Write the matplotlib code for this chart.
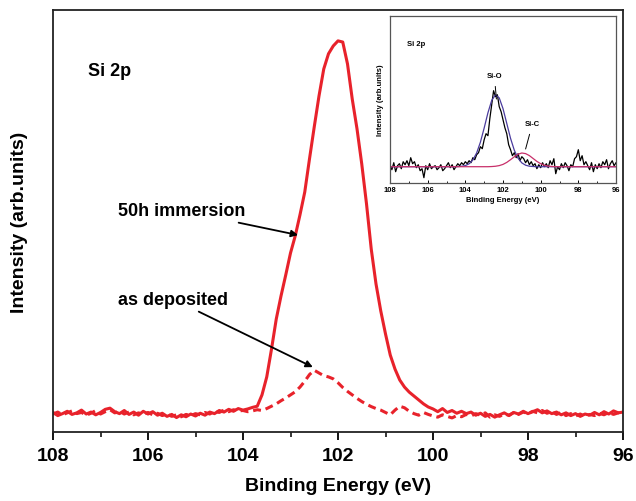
import numpy as np
import matplotlib
matplotlib.use("Agg")
import matplotlib.pyplot as plt
from matplotlib.ticker import MultipleLocator

plt.rcParams['font.family'] = ['Liberation Sans', 'DejaVu Sans']
plt.rcParams['font.weight'] = 'bold'

# Binding energy grid (eV), 108 -> 96 in 0.1 eV steps
energy = np.linspace(108.0, 96.0, 121)

# Si 2p intensity after 50 h immersion (counts, arb.)
immersion_50h = [
    50, 42, 47, 53, 45, 49, 56, 46, 51, 44, 50, 58, 61, 52, 47, 55, 45, 51, 43, 53,
    46, 52, 43, 48, 40, 45, 37, 44, 39, 46, 41, 48, 43, 51, 47, 55, 51, 58, 53, 60,
    56, 59, 63,
    66, 95, 141, 212, 289, 348, 402, 458, 502, 556, 614, 699, 781, 860, 929, 968, 988,
    1001, 998, 942, 852, 776, 686, 584, 468, 379, 310, 251, 197, 161, 133, 115, 102,
    92, 82, 72, 64, 59,
    52, 60, 50, 55, 48, 53, 47, 51, 43, 48, 40, 45, 38, 44, 49, 42, 50, 46, 53, 47,
    52, 57, 49, 54, 47, 51, 44, 49, 42, 47, 40, 46, 43, 50, 44, 52, 46, 54, 49, 51,
]

# Si 2p intensity of the as-deposited film
as_deposited = [
    46, 51, 44, 49, 54, 47, 50, 43, 48, 55, 46, 52, 57, 49, 53, 46, 51, 44, 49, 45,
    50, 44, 48, 42, 46, 40, 44, 39, 45, 42, 47, 44, 50, 46, 53, 50, 56, 52, 57, 54,
    55,
    52, 54, 57, 55, 60, 66, 72, 80, 87, 95, 103, 115, 130, 147, 158, 151, 144, 141,
    136, 126, 114, 104, 95, 86, 78, 71, 65, 60, 56, 50, 44, 56, 66, 62, 53, 47, 43,
    50, 45, 41,
    38, 44, 40, 36, 42, 39, 45, 41, 47, 43, 49, 38, 44, 40, 46, 43, 50, 45, 51, 47,
    53, 49, 55, 48, 52, 45, 50, 42, 47, 41, 46, 40, 45, 42, 48, 44, 50, 45, 49, 46,
]

# Inset: raw Si 2p spectrum (height above background, arb.)
inset_raw = [
    2, -3, 4, -5, 1, 3, -2, 5, 2, 6, 1, 9, 3, 5, -1, 2, -4, -2, -11, 1,
    -3, 3, -2, 0, 1, -3, -1, 2, -4, -2, 1, 4, -1, 2, -3, 0, 3, 1, 4, 2,
    5, 3, 6, 4, 9, 7, 12, 14, 20, 18, 27, 33, 31, 48, 62, 76, 70, 72, 60, 55,
    47, 39, 33, 22, 17, 11, 14, 9, 13, 6, 10, 8, 4, 7, 2, 5, 1, 3, -2, 2,
    -1, 4, 0, 3, -1, 6, 2, 8, -7, 0, -3, 3, -1, 4, 1, -4, 2, 0, 8, 10,
    17, 6, 11, 2, 5, 1, -3, 4, -5, 2, -2, 3, -1, 5, 2, 7, -2, 3, 6, 1,
    4,
]

# Inset: fitted Si-O component
sio_energy = [108.0, 104.6, 104.4, 104.2, 104.0, 103.8, 103.6, 103.4, 103.2, 103.0,
              102.8, 102.6, 102.4, 102.2, 102.0, 101.8, 101.6, 101.4, 101.2, 101.0,
              100.8, 100.6, 100.4, 100.2, 96.0]
sio_fit = [0, 0, 0.1, 0.4, 1.1, 2.9, 6.7, 13.7, 24.5, 38.7,
           53.9, 66.3, 71.9, 68.8, 58.1, 43.3, 28.4, 16.5, 8.4, 3.8,
           1.5, 0.5, 0.2, 0, 0]

# Inset: fitted Si-C component (drawn together with the background line)
sic_energy = [108.0, 102.8, 102.6, 102.4, 102.2, 102.0, 101.8, 101.6, 101.4, 101.2,
              101.0, 100.8, 100.6, 100.4, 100.2, 100.0, 99.8, 99.6, 99.4, 99.2,
              99.0, 96.0]
sic_fit = [0, 0, 0.16, 0.45, 1.1, 2.3, 4.3, 7.0, 9.9, 12.5,
           13.7, 13.1, 11.1, 8.2, 5.3, 3.0, 1.5, 0.6, 0.2, 0.05,
           0, 0]

xticks = [108, 106, 104, 102, 100, 98, 96]

RED = '#e8222b'

fig = plt.figure(figsize=(6.36, 5.02), dpi=100)
ax = fig.add_axes([53 / 636, 1 - 433 / 502, 570 / 636, 422 / 502])

ax.plot(energy, immersion_50h, color=RED, lw=2.2, solid_joinstyle='round')
ax.plot(energy, as_deposited, color=RED, lw=2.2, dashes=(2.6, 1.6))

ax.set_xlim(108, 96)
ax.set_ylim(0, 1080)
ax.set_xticks(xticks)
ax.set_xticklabels([str(t) for t in xticks])
ax.xaxis.set_minor_locator(MultipleLocator(1))
ax.tick_params(axis='x', which='major', direction='out', length=6, width=1.3,
               labelsize=14, pad=5)
ax.tick_params(axis='x', which='minor', direction='out', length=3.5, width=1.1)
ax.set_yticks([])
for s in ax.spines.values():
    s.set_linewidth(1.3)
    s.set_color('#222222')

ax.set_xlabel('Binding Energy (eV)', fontsize=14, fontweight='bold', labelpad=9)
ax.set_ylabel('Intensity (arb.units)', fontsize=14, fontweight='bold', labelpad=18)

ax.text(107.26, 924, 'Si 2p', fontsize=13, fontweight='bold', va='center', ha='left')
ax.annotate('50h immersion', xy=(102.84, 504), xytext=(106.63, 566),
            fontsize=13, fontweight='bold', va='center', ha='left',
            arrowprops=dict(arrowstyle='-|>', color='black', lw=1.3,
                            mutation_scale=10, shrinkA=2, shrinkB=0))
ax.annotate('as deposited', xy=(102.53, 166), xytext=(106.63, 340),
            fontsize=13, fontweight='bold', va='center', ha='left',
            arrowprops=dict(arrowstyle='-|>', color='black', lw=1.3,
                            mutation_scale=10, shrinkA=2, shrinkB=0))

# Inset with the fitted spectrum
ins = fig.add_axes([390 / 636, 1 - 184 / 502, 226 / 636, 167 / 502])
ins.plot(energy, inset_raw, color='black', lw=0.9)
ins.plot(sio_energy, sio_fit, color='#4b3c9e', lw=0.9)
ins.plot(sic_energy, sic_fit, color='#c8306a', lw=0.9)
ins.set_xlim(108, 96)
ins.set_ylim(-16.3, 150.7)
ins.set_xticks(xticks)
ins.set_xticklabels([str(t) for t in xticks])
ins.xaxis.set_minor_locator(MultipleLocator(1))
ins.tick_params(axis='x', which='major', direction='in', length=2.5, width=0.7,
                labelsize=5.5, pad=2)
ins.tick_params(axis='x', which='minor', direction='in', length=1.5, width=0.6)
ins.set_yticks([])
for s in ins.spines.values():
    s.set_linewidth(0.9)
    s.set_color('#555555')
ins.set_xlabel('Binding Energy (eV)', fontsize=5.5, fontweight='bold', labelpad=2)
ins.set_ylabel('Intensity (arb.units)', fontsize=5.5, fontweight='bold', labelpad=4)
ins.text(107.08, 122.7, 'Si 2p', fontsize=5.5, fontweight='bold', va='center', ha='left')
ins.annotate('Si-O', xy=(102.35, 67.7), xytext=(102.46, 90.7),
             fontsize=5.5, fontweight='bold', va='center', ha='center',
             arrowprops=dict(arrowstyle='-', color='black', lw=0.7,
                             shrinkA=3, shrinkB=0))
ins.annotate('Si-C', xy=(100.8, 17.7), xytext=(100.44, 42.7),
             fontsize=5.5, fontweight='bold', va='center', ha='center',
             arrowprops=dict(arrowstyle='-', color='black', lw=0.7,
                             shrinkA=3, shrinkB=0))

fig.savefig('out.png', dpi=100)
